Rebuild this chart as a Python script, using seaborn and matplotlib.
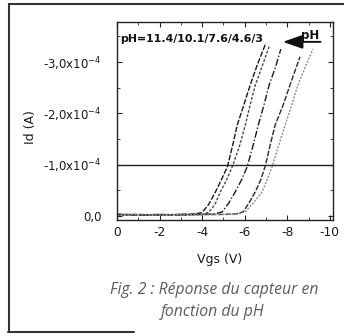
import numpy as np
import pandas as pd
import seaborn as sns
import matplotlib.pyplot as plt
from matplotlib.ticker import MultipleLocator, FixedLocator, FixedFormatter

sns.set_style("ticks")
plt.rcParams['font.family'] = ['DejaVu Sans']
plt.rcParams['mathtext.fontset'] = 'dejavusans'

# transfer curves Id(Vgs) (Id in units of 1e-4 A)
vgs_114 = [0, -1, -2, -3, -3.7, -4.0, -4.3, -4.63, -4.9, -5.19, -5.45, -5.65, -5.95, -6.26, -6.6, -7.0]
id_114 = [-0.03, -0.03, -0.02, -0.03, -0.04, -0.07, -0.22, -0.47, -0.7, -0.96, -1.4, -1.77, -2.15, -2.55, -2.95, -3.37]

vgs_101 = [0, -1, -2, -3, -4.0, -4.3, -4.6, -4.86, -5.15, -5.42, -5.75, -6.03, -6.25, -6.5, -6.85, -7.15]
id_101 = [-0.02, -0.02, -0.03, -0.02, -0.03, -0.07, -0.22, -0.47, -0.7, -0.96, -1.35, -1.77, -2.15, -2.55, -2.95, -3.3]

vgs_76 = [0, -1, -2, -3, -4, -4.6, -4.95, -5.25, -5.56, -5.85, -6.12, -6.4, -6.64, -6.9, -7.15, -7.45, -7.7]
id_76 = [-0.03, -0.02, -0.02, -0.03, -0.03, -0.04, -0.08, -0.25, -0.47, -0.7, -0.96, -1.38, -1.77, -2.15, -2.55, -2.9, -3.25]

vgs_46 = [0, -1, -2, -3, -4, -5, -5.6, -5.93, -6.2, -6.5, -6.75, -6.96, -7.2, -7.43, -7.8, -8.13, -8.6]
id_46 = [-0.03, -0.02, -0.03, -0.02, -0.03, -0.03, -0.04, -0.08, -0.25, -0.47, -0.7, -0.96, -1.38, -1.77, -2.15, -2.55, -3.1]

vgs_3 = [0, -1, -2, -3, -4, -5, -5.7, -6.03, -6.4, -6.82, -7.05, -7.29, -7.6, -7.9, -8.2, -8.5, -8.85, -9.2]
id_3 = [-0.02, -0.03, -0.02, -0.03, -0.02, -0.03, -0.04, -0.08, -0.25, -0.47, -0.7, -0.96, -1.38, -1.77, -2.15, -2.55, -2.9, -3.25]

ph_labels = ['11.4', '10.1', '7.6', '4.6', '3']
x_ticks = [0, -2, -4, -6, -8, -10]
x_ticklabels = ['0', '-2', '-4', '-6', '-8', '-10']
y_ticks = [0, -1e-4, -2e-4, -3e-4]
y_ticklabels = ['0,0', '-1,0x10$^{-4}$', '-2,0x10$^{-4}$', '-3,0x10$^{-4}$']
ref_current = -1e-4

frames = []
for ph, v, i in zip(ph_labels, [vgs_114, vgs_101, vgs_76, vgs_46, vgs_3],
                    [id_114, id_101, id_76, id_46, id_3]):
    frames.append(pd.DataFrame({'Vgs': v, 'Id': np.array(i) * 1e-4, 'pH': ph}))
df = pd.concat(frames, ignore_index=True)

fig = plt.figure(figsize=(3.44, 3.36), dpi=100)
ax = fig.add_axes([0.340, 0.345, 0.628, 0.590])

palette = {'11.4': '#1a1a1a', '10.1': '#4a4a4a', '7.6': '#1a1a1a', '4.6': '#2a2a2a', '3': '#8f8f8f'}
dashes = {'11.4': (4, 1.2), '10.1': (2, 1.2), '7.6': (5, 1.5, 1, 1.5), '4.6': (4, 1.2), '3': (1.5, 1)}
sns.lineplot(data=df, x='Vgs', y='Id', hue='pH', style='pH', palette=palette, dashes=dashes,
             sort=False, estimator=None, linewidth=1.0, legend=False, ax=ax)

ax.axhline(ref_current, color='#222222', lw=1.0)

ax.set_xlim(0.0, -10.15)
ax.set_ylim(0.08e-4, -3.78e-4)
ax.xaxis.set_major_locator(FixedLocator(x_ticks))
ax.xaxis.set_major_formatter(FixedFormatter(x_ticklabels))
ax.xaxis.set_minor_locator(MultipleLocator(1))
ax.yaxis.set_major_locator(FixedLocator(y_ticks))
ax.yaxis.set_major_formatter(FixedFormatter(y_ticklabels))
ax.yaxis.set_minor_locator(MultipleLocator(0.5e-4))
ax.tick_params(which='both', direction='in', top=True, right=True, color='#222222')
ax.tick_params(which='major', length=3.5, width=0.8)
ax.tick_params(which='minor', length=2, width=0.6)
ax.tick_params(axis='y', labelsize=8.5, pad=11, labelcolor='#1a1a1a')
ax.tick_params(axis='x', labelsize=8.8, pad=4, labelcolor='#1a1a1a')
for s in ax.spines.values():
    s.set_color('#222222')
    s.set_linewidth(1.0)

ax.set_xlabel('Vgs (V)', fontsize=9, color='#1a1a1a')
ax.xaxis.set_label_coords(0.475, -0.165)
ax.set_ylabel('Id (A)', fontsize=9, color='#1a1a1a')
ax.yaxis.set_label_coords(-0.37, 0.47)

ax.text(0.015, 0.914, 'pH=11.4/10.1/7.6/4.6/3', transform=ax.transAxes, fontsize=7.9,
        fontweight='bold', va='center', ha='left', color='#111111')
ax.annotate('', xy=(0.755, 0.899), xytext=(0.955, 0.899), xycoords='axes fraction',
            arrowprops=dict(arrowstyle='-|>,head_length=1.2,head_width=0.42', color='#111111', lw=1.4))
ax.text(0.895, 0.912, 'pH', transform=ax.transAxes, fontsize=8.5, fontweight='bold',
        va='baseline', ha='center', color='#111111')

fig.text(0.622, 0.137, 'Fig. 2 : Réponse du capteur en', fontsize=11.3, style='italic',
         color='#5c5c5c', ha='center', va='center', family=['Open Sans', 'DejaVu Sans'])
fig.text(0.619, 0.071, 'fonction du pH', fontsize=11.3, style='italic',
         color='#5c5c5c', ha='center', va='center', family=['Open Sans', 'DejaVu Sans'])

# scanned frame around the figure
fig.add_artist(plt.Line2D([0.027, 1.0], [0.988, 0.988], color='#333333', lw=1.5))
fig.add_artist(plt.Line2D([0.027, 0.027], [0.012, 0.988], color='#333333', lw=1.5))
fig.add_artist(plt.Line2D([0.024, 0.39], [0.012, 0.012], color='#333333', lw=1.5))

fig.savefig('out.png', dpi=100)
